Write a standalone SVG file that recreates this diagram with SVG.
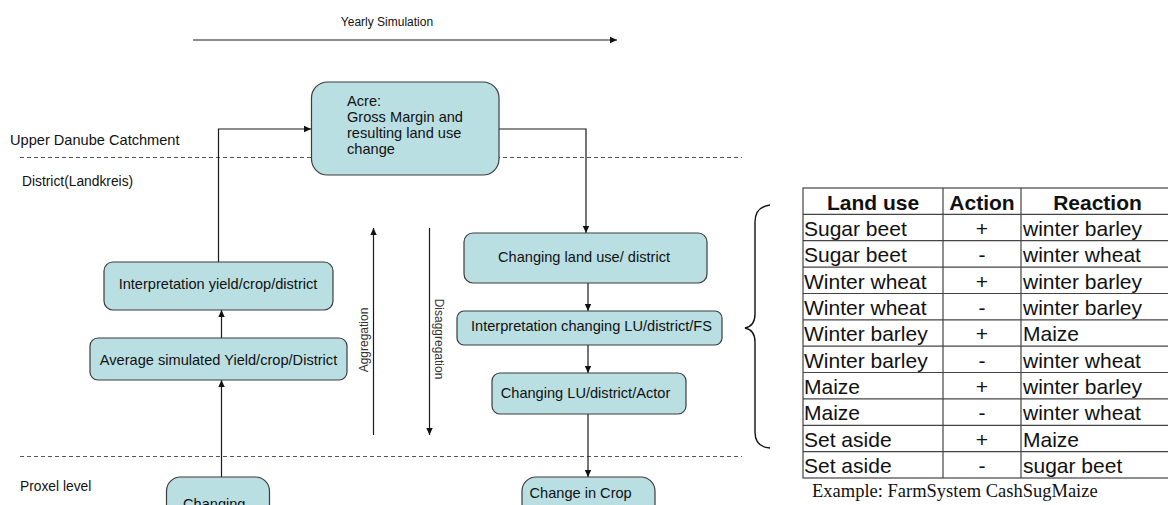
<svg xmlns="http://www.w3.org/2000/svg" width="1168" height="505" viewBox="0 0 1168 505">
<style>
  .t { font-family: "Liberation Sans", Arial, sans-serif; fill: #111; }
  .box { fill: #b9dfe3; stroke: #3c3c3c; stroke-width: 1.2; }
  .lbl { font-size: 14.6px; }
  .ax { font-size: 12px; fill: #333; }
  .con { fill: none; stroke: #1a1a1a; stroke-width: 1.2; }
  .dash { stroke: #555; stroke-width: 1; stroke-dasharray: 4 3; }
  .tbl { stroke: #444; stroke-width: 1.2; fill: none; }
  .tt { font-family: "Liberation Sans", Arial, sans-serif; font-size: 21px; fill: #111; }
  .th { font-weight: bold; }
</style>
<defs>
  <marker id="ah" markerWidth="8" markerHeight="8" refX="7" refY="4" orient="auto" markerUnits="userSpaceOnUse">
    <path d="M0,0.8 L7,4 L0,7.2 Z" fill="#111"/>
  </marker>
</defs>
<rect x="0" y="0" width="1168" height="505" fill="#fff"/>

<!-- level labels and separators -->
<g id="levels">
  <text class="t" x="387" y="26" font-size="12" text-anchor="middle">Yearly Simulation</text>
  <text class="t" x="10" y="145" font-size="14.6">Upper Danube Catchment</text>
  <text class="t" x="22" y="186" font-size="13.8">District(Landkreis)</text>
  <text class="t" x="20" y="491" font-size="13.8">Proxel level</text>
  <line class="dash" x1="20" y1="157.5" x2="742" y2="157.5"/>
  <line class="dash" x1="20" y1="456.5" x2="742" y2="456.5"/>
</g>

<!-- connectors -->
<g id="connectors">
  <line class="con" x1="193" y1="40" x2="617" y2="40" marker-end="url(#ah)"/>
  <polyline class="con" points="218.5,262 218.5,129 311,129" marker-end="url(#ah)"/>
  <polyline class="con" points="492,129 586,129 586,233" marker-end="url(#ah)"/>
  <line class="con" x1="221.5" y1="338" x2="221.5" y2="310" marker-end="url(#ah)"/>
  <line class="con" x1="221.5" y1="477" x2="221.5" y2="380" marker-end="url(#ah)"/>
  <line class="con" x1="588" y1="283" x2="588" y2="311" marker-end="url(#ah)"/>
  <line class="con" x1="588" y1="345" x2="588" y2="373" marker-end="url(#ah)"/>
  <line class="con" x1="588" y1="414" x2="588" y2="477" marker-end="url(#ah)"/>
  <line class="con" x1="373.5" y1="435" x2="373.5" y2="228" marker-end="url(#ah)"/>
  <line class="con" x1="429.5" y1="228" x2="429.5" y2="435" marker-end="url(#ah)"/>
  <text class="t ax" x="364" y="340" text-anchor="middle" dominant-baseline="central" transform="rotate(-90 364 340)">Aggregation</text>
  <text class="t ax" x="439" y="339" text-anchor="middle" dominant-baseline="central" transform="rotate(90 439 339)">Disaggregation</text>
</g>

<g id="acre">
  <rect class="box" x="311.5" y="82" width="187.5" height="93" rx="16"/>
  <text class="t lbl" x="347" y="106">Acre:</text>
  <text class="t lbl" x="347" y="122">Gross Margin and</text>
  <text class="t lbl" x="347" y="138">resulting land use</text>
  <text class="t lbl" x="347" y="154">change</text>
</g>

<g id="interp-yield">
  <rect class="box" x="104" y="262" width="229" height="48" rx="9"/>
  <text class="t lbl" x="218" y="288.5" text-anchor="middle">Interpretation yield/crop/district</text>
</g>

<g id="avg-yield">
  <rect class="box" x="90" y="338" width="257" height="42" rx="8"/>
  <text class="t lbl" x="218.5" y="365" text-anchor="middle">Average simulated Yield/crop/District</text>
</g>

<g id="changing-proxel">
  <rect class="box" x="166.5" y="477" width="103" height="70" rx="14"/>
  <text class="t lbl" x="183" y="509">Changing</text>
</g>

<g id="changing-lu-district">
  <rect class="box" x="464" y="233" width="243" height="50" rx="9"/>
  <text class="t lbl" x="584" y="262" text-anchor="middle">Changing land use/ district</text>
</g>

<g id="interp-changing">
  <rect class="box" x="457" y="311" width="265" height="34" rx="7"/>
  <text class="t lbl" x="591.5" y="330.5" text-anchor="middle">Interpretation changing LU/district/FS</text>
</g>

<g id="changing-actor">
  <rect class="box" x="492" y="373" width="194" height="41" rx="8"/>
  <text class="t lbl" x="585.5" y="398" text-anchor="middle">Changing LU/district/Actor</text>
</g>

<g id="change-crop">
  <rect class="box" x="522" y="477" width="133" height="70" rx="14"/>
  <text class="t lbl" x="529.5" y="498">Change in Crop</text>
</g>

<g id="brace">
  <path d="M770,205 Q755,207 755,222 L755,314 Q755,326 745,328 Q755,330 755,342 L755,432 Q755,447 770,448" fill="none" stroke="#111" stroke-width="1.4"/>
</g>

<g id="table">
  <rect class="tbl" x="803" y="188" width="371" height="290" fill="#fff"/>
  <line class="tbl" x1="943" y1="188" x2="943" y2="478"/>
  <line class="tbl" x1="1021" y1="188" x2="1021" y2="478"/>
  <g class="tbl">
    <line x1="803" y1="214.4" x2="1174" y2="214.4"/>
    <line x1="803" y1="240.7" x2="1174" y2="240.7"/>
    <line x1="803" y1="267.1" x2="1174" y2="267.1"/>
    <line x1="803" y1="293.5" x2="1174" y2="293.5"/>
    <line x1="803" y1="319.8" x2="1174" y2="319.8"/>
    <line x1="803" y1="346.2" x2="1174" y2="346.2"/>
    <line x1="803" y1="372.5" x2="1174" y2="372.5"/>
    <line x1="803" y1="398.9" x2="1174" y2="398.9"/>
    <line x1="803" y1="425.3" x2="1174" y2="425.3"/>
    <line x1="803" y1="451.6" x2="1174" y2="451.6"/>
  </g>
  <text class="tt th" x="873" y="209.5" text-anchor="middle">Land use</text>
  <text class="tt th" x="982" y="209.5" text-anchor="middle">Action</text>
  <text class="tt th" x="1097.5" y="209.5" text-anchor="middle">Reaction</text>

  <text class="tt" x="804" y="235.8">Sugar beet</text>
  <text class="tt" x="982" y="235.8" text-anchor="middle">+</text>
  <text class="tt" x="1023" y="235.8">winter barley</text>

  <text class="tt" x="804" y="262.1">Sugar beet</text>
  <text class="tt" x="982" y="262.1" text-anchor="middle">-</text>
  <text class="tt" x="1023" y="262.1">winter wheat</text>

  <text class="tt" x="804" y="288.5">Winter wheat</text>
  <text class="tt" x="982" y="288.5" text-anchor="middle">+</text>
  <text class="tt" x="1023" y="288.5">winter barley</text>

  <text class="tt" x="804" y="314.9">Winter wheat</text>
  <text class="tt" x="982" y="314.9" text-anchor="middle">-</text>
  <text class="tt" x="1023" y="314.9">winter barley</text>

  <text class="tt" x="804" y="341.2">Winter barley</text>
  <text class="tt" x="982" y="341.2" text-anchor="middle">+</text>
  <text class="tt" x="1023" y="341.2">Maize</text>

  <text class="tt" x="804" y="367.6">Winter barley</text>
  <text class="tt" x="982" y="367.6" text-anchor="middle">-</text>
  <text class="tt" x="1023" y="367.6">winter wheat</text>

  <text class="tt" x="804" y="393.9">Maize</text>
  <text class="tt" x="982" y="393.9" text-anchor="middle">+</text>
  <text class="tt" x="1023" y="393.9">winter barley</text>

  <text class="tt" x="804" y="420.3">Maize</text>
  <text class="tt" x="982" y="420.3" text-anchor="middle">-</text>
  <text class="tt" x="1023" y="420.3">winter wheat</text>

  <text class="tt" x="804" y="446.6">Set aside</text>
  <text class="tt" x="982" y="446.6" text-anchor="middle">+</text>
  <text class="tt" x="1023" y="446.6">Maize</text>

  <text class="tt" x="804" y="473">Set aside</text>
  <text class="tt" x="982" y="473" text-anchor="middle">-</text>
  <text class="tt" x="1023" y="473">sugar beet</text>

  <text x="812" y="497" font-family="'Liberation Serif', 'Times New Roman', serif" font-size="18.5" fill="#111">Example: FarmSystem CashSugMaize</text>
</g>
</svg>
